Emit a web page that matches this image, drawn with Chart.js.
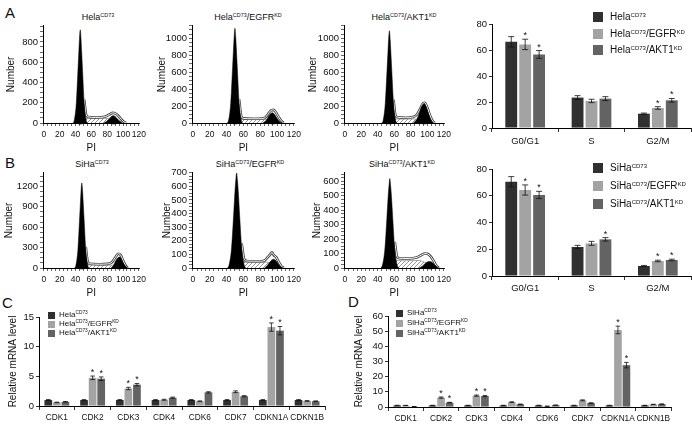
<!DOCTYPE html>
<html>
<head>
<meta charset="utf-8">
<script src="https://cdn.jsdelivr.net/npm/chart.js@4.4.1/dist/chart.umd.min.js"></script>
<style>
  body { margin: 0; background: #fff; }
  #fig { position: relative; width: 692px; height: 427px; overflow: hidden; background: #fff;
         font-family: 'Liberation Sans', Arial, sans-serif; color: #111; }
  #fig canvas { position: absolute; }
  .panel { position: absolute; font-size: 15px; line-height: 15px; }
  .ttl { position: absolute; width: 140px; text-align: center; white-space: nowrap; font-size: 9px; line-height: 10px; color: #111; }
  .ttl sup, .leg sup { font-size: 0.6em; line-height: 0; vertical-align: 0.55em; }
  .leg { position: absolute; white-space: nowrap; color: #111; }
  .leg i { position: absolute; display: block; }
</style>
</head>
<body>
<div id="fig">
  <div class="panel" style="left:5px;top:5px">A</div>
  <div class="panel" style="left:5px;top:155px">B</div>
  <div class="panel" style="left:2px;top:295px">C</div>
  <div class="panel" style="left:348px;top:294px">D</div>

  <div class="ttl" style="left:28px;top:12px">Hela<sup>CD73</sup></div>
  <div class="ttl" style="left:178px;top:12px">Hela<sup>CD73</sup>/EGFR<sup>KD</sup></div>
  <div class="ttl" style="left:334px;top:12px">Hela<sup>CD73</sup>/AKT1<sup>KD</sup></div>
  <div class="ttl" style="left:22px;top:159px">SiHa<sup>CD73</sup></div>
  <div class="ttl" style="left:180px;top:159px">SiHa<sup>CD73</sup>/EGFR<sup>KD</sup></div>
  <div class="ttl" style="left:332px;top:159px">SiHa<sup>CD73</sup>/AKT1<sup>KD</sup></div>

  <canvas id="hA1" width="150" height="136" style="left:0;top:18px"></canvas>
  <canvas id="hA2" width="155" height="136" style="left:150px;top:18px"></canvas>
  <canvas id="hA3" width="150" height="136" style="left:305px;top:18px"></canvas>
  <canvas id="hB1" width="150" height="134" style="left:0;top:165px"></canvas>
  <canvas id="hB2" width="155" height="134" style="left:150px;top:165px"></canvas>
  <canvas id="hB3" width="150" height="134" style="left:305px;top:165px"></canvas>
  <canvas id="barA" width="237" height="147" style="left:455px;top:8px"></canvas>
  <canvas id="barB" width="237" height="147" style="left:455px;top:153px"></canvas>
  <canvas id="barC" width="346" height="129" style="left:0;top:298px"></canvas>
  <canvas id="barD" width="346" height="129" style="left:346px;top:298px"></canvas>
</div>

<script>
// ---- cell cycle histograms: [PI, count] ----
const a1G1 = [[37,0],[38.5,28],[41,193],[43,506],[44.3,718],[45,828],[46,920],[47,828],[47.7,718],[49,506],[51,193],[53.5,28],[55,0]];
const a1G2 = [[76,0],[79,15],[83,45],[86,68],[88,72],[90,65],[93,40],[96,15],[99,0]];
const a1S = [[44,0],[46,45],[51,48],[60,46],[70,44],[80,46],[85,48],[91,40],[96,22],[100,5],[102,0]];
const a1Total = [[51,230],[53.5,80],[56,60],[65,55],[72,56],[78,64],[83,85],[87,100],[90,95],[94,72],[98,35],[101,12],[104,0]];

const a2G1 = [[41,0],[42.5,34],[45,235],[47,616],[48.3,874],[49,1008],[50,1120],[51,1008],[51.7,874],[53,616],[55,235],[57.5,34],[59,0]];
const a2G2 = [[83,0],[87,30],[90,80],[93,115],[95,120],[97,100],[100,55],[103,15],[106,0]];
const a2S = [[47,0],[50,40],[55,45],[65,42],[75,40],[85,42],[90,38],[96,25],[102,8],[106,0]];
const a2Total = [[55,280],[57.5,80],[60,55],[70,50],[78,50],[85,58],[89,100],[93,150],[96,155],[99,120],[102,70],[105,25],[108,0]];

const a3G1 = [[45,0],[46.5,33],[49,229],[51,600],[52.3,850],[53,981],[54,1090],[55,981],[55.7,850],[57,600],[59,229],[61.5,33],[63,0]];
const a3G2 = [[83,0],[87,40],[90,110],[93,195],[96,226],[98,205],[101,120],[104,40],[107,0]];
const a3S = [[51,0],[54,45],[60,48],[70,45],[80,48],[87,45],[93,30],[99,10],[103,0]];
const a3Total = [[59,275],[61.5,85],[64,68],[75,62],[82,70],[87,95],[91,160],[95,235],[97,240],[100,180],[104,70],[107,15],[109,0]];

const b1G1 = [[39,0],[40.5,38],[43,263],[45,688],[46.3,975],[47,1125],[48,1250],[49,1125],[49.7,975],[51,688],[53,263],[55.5,38],[57,0]];
const b1G2 = [[85,0],[88,40],[91,110],[94,155],[96,160],[98,130],[101,60],[104,15],[106,0]];
const b1S = [[45,0],[48,40],[54,45],[64,42],[74,40],[84,42],[90,38],[95,25],[100,8],[103,0]];
const b1Total = [[53,310],[55.5,90],[58,62],[70,56],[80,60],[86,85],[90,150],[94,210],[97,190],[100,110],[103,40],[106,0]];

const b2G1 = [[41,0],[43,21],[46,147],[48.4,385],[50,560],[51,644],[52,700],[53,644],[54,560],[55.6,385],[58,147],[61,21],[63,0]];
const b2G2 = [[85,0],[88,15],[91,40],[94,60],[96,65],[98,58],[101,35],[104,10],[107,0]];
const b2S = [[49,0],[52,40],[58,44],[68,42],[78,40],[88,42],[93,38],[98,25],[103,8],[107,0]];
const b2Total = [[58,180],[61,65],[64,52],[72,50],[80,50],[86,58],[89,80],[92,100],[94,115],[96,95],[99,80],[102,45],[105,15],[108,0]];

const b3G1 = [[43.5,0],[45.5,19],[48.5,130],[50.9,341],[52.5,496],[53.5,570],[54.5,620],[55.5,570],[56.5,496],[58.1,341],[60.5,130],[63.5,19],[65.5,0]];
const b3G2 = [[90,0],[94,12],[97,30],[100,42],[103,45],[106,38],[109,20],[112,5],[114,0]];
const b3S = [[52,0],[55,45],[62,52],[72,50],[82,52],[90,52],[96,42],[102,25],[108,8],[112,0]];
const b3Total = [[60.5,180],[63.5,75],[66,68],[74,66],[82,68],[88,75],[93,90],[97,100],[100,98],[104,80],[108,45],[111,15],[114,0]];

// G1 / G2 mean markers on the PI axis
const a1Marks = [46, 88], a2Marks = [50, 95], a3Marks = [54, 96];
const b1Marks = [48, 95], b2Marks = [52, 96], b3Marks = [54.5, 103];

// ---- cell cycle distribution (%) ----
const phases = ['G0/G1', 'S', 'G2/M'];
const helaCtrl = [66.3, 23.4, 11.0],  helaCtrlErr = [4.0, 1.5, 0.5];
const helaEgfr = [64.3, 20.8, 15.4],  helaEgfrErr = [4.0, 1.3, 1.0],  helaEgfrSig = [1, 0, 1];
const helaAkt1 = [56.6, 22.6, 21.3],  helaAkt1Err = [3.0, 1.5, 1.4],  helaAkt1Sig = [1, 0, 1];
const sihaCtrl = [70.5, 21.7, 7.5],   sihaCtrlErr = [3.8, 1.2, 0.4];
const sihaEgfr = [64.3, 24.4, 11.2],  sihaEgfrErr = [3.8, 1.5, 0.6],  sihaEgfrSig = [1, 0, 1];
const sihaAkt1 = [60.6, 27.4, 12.0],  sihaAkt1Err = [2.7, 1.3, 0.6],  sihaAkt1Sig = [1, 1, 1];

// ---- relative mRNA level ----
const genes = ['CDK1', 'CDK2', 'CDK3', 'CDK4', 'CDK6', 'CDK7', 'CDKN1A', 'CDKN1B'];
const helaMrna     = [1, 1, 1, 1, 1, 1, 1, 1];
const helaMrnaErr  = [0.08, 0.08, 0.08, 0.08, 0.08, 0.08, 0.08, 0.08];
const helaEgfrMrna = [0.6, 4.75, 2.95, 1.05, 0.8, 2.4, 13.3, 0.85];
const helaEgfrErrM = [0.05, 0.3, 0.2, 0.08, 0.06, 0.15, 0.7, 0.06];
const helaEgfrSigM = [0, 1, 1, 0, 0, 0, 1, 0];
const helaAkt1Mrna = [0.7, 4.6, 3.6, 1.4, 2.3, 1.65, 12.7, 0.8];
const helaAkt1ErrM = [0.06, 0.3, 0.2, 0.1, 0.1, 0.1, 0.7, 0.06];
const helaAkt1SigM = [0, 1, 1, 0, 0, 0, 1, 0];

const sihaMrna     = [1, 1, 1, 1, 1, 1, 1, 1];
const sihaMrnaErr  = [0.15, 0.15, 0.15, 0.15, 0.15, 0.15, 0.15, 0.15];
const sihaEgfrMrna = [1.0, 6.2, 7.5, 3.2, 0.5, 4.4, 50.8, 1.7];
const sihaEgfrErrM = [0.1, 0.4, 0.4, 0.2, 0.05, 0.3, 2.5, 0.1];
const sihaEgfrSigM = [0, 1, 1, 0, 0, 0, 1, 0];
const sihaAkt1Mrna = [0.3, 2.9, 7.2, 1.8, 1.2, 2.6, 27.6, 1.9];
const sihaAkt1ErrM = [0.05, 0.2, 0.4, 0.15, 0.1, 0.2, 1.8, 0.1];
const sihaAkt1SigM = [0, 1, 1, 0, 0, 0, 1, 0];

const colors = ['#303030', '#a3a3a3', '#636363'];

Chart.defaults.font.family = "'Liberation Sans', Arial, sans-serif";
Chart.defaults.color = '#111';
Chart.defaults.animation = false;

function pts(arr) { return arr.map(([x, y]) => ({ x, y })); }

function hatch() {
  const c = document.createElement('canvas');
  c.width = 4; c.height = 4;
  const g = c.getContext('2d');
  g.strokeStyle = '#666';
  g.lineWidth = 0.7;
  g.beginPath();
  g.moveTo(0, 4); g.lineTo(4, 0);
  g.moveTo(-1, 1); g.lineTo(1, -1);
  g.moveTo(3, 5); g.lineTo(5, 3);
  g.stroke();
  return g.createPattern(c, 'repeat');
}

function makeHist(id, c) {
  const line = { pointRadius: 0, cubicInterpolationMode: 'monotone' };
  new Chart(document.getElementById(id), {
    type: 'line',
    data: {
      datasets: [
        { ...line, data: pts(c.s), fill: 'origin', backgroundColor: hatch(), borderColor: '#777', borderWidth: 0.6, order: 5 },
        { ...line, data: pts(c.total), fill: false, borderColor: '#444', borderWidth: 2.6, order: 4 },
        { ...line, data: pts(c.total), fill: false, borderColor: '#fff', borderWidth: 1, order: 3 },
        { ...line, data: pts(c.g1), fill: 'origin', backgroundColor: '#000', borderColor: '#000', borderWidth: 0.5, order: 2 },
        { ...line, data: pts(c.g2), fill: 'origin', backgroundColor: '#000', borderColor: '#000', borderWidth: 0.5, order: 1 },
        { type: 'scatter', data: c.marks.map(x => ({ x, y: 0 })), pointStyle: 'triangle', pointRadius: 2.4,
          backgroundColor: '#000', borderWidth: 0, clip: false, order: 0 }
      ]
    },
    options: {
      responsive: false,
      layout: { padding: { top: c.padT, right: c.padR, bottom: 0, left: 0 } },
      plugins: { legend: { display: false }, tooltip: { enabled: false } },
      scales: {
        x: {
          type: 'linear', min: -1, max: 121,
          afterFit: s => { s.height = c.xH; },
          border: { color: '#000', width: 1 },
          grid: { drawOnChartArea: false, tickLength: 3, color: '#000', lineWidth: 0.6 },
          ticks: { stepSize: 5, includeBounds: false, autoSkip: false, maxRotation: 0, padding: 4,
                   font: { size: 8.5 }, callback: v => (v % 20 === 0 ? v : '') },
          title: { display: true, text: 'PI', padding: 0, font: { size: 10 } }
        },
        y: {
          min: 0, max: c.yMax,
          afterFit: s => { s.width = c.yW; },
          border: { color: '#000', width: 1 },
          grid: { drawOnChartArea: false, tickLength: 3, color: '#000', lineWidth: 0.6 },
          ticks: { stepSize: c.yStep / 4, includeBounds: false, autoSkip: false, padding: 2,
                   font: { size: 9.5 }, callback: v => (v % c.yStep === 0 ? v : '') },
          title: { display: true, text: 'Number', padding: { top: c.tPad, bottom: 0 }, font: { size: 10 } }
        }
      }
    }
  });
}

makeHist('hA1', { g1: a1G1, g2: a1G2, s: a1S, total: a1Total, marks: a1Marks, yMax: 960, yStep: 200, yW: 43, padT: 5, padR: 5, xH: 31, tPad: 5 });
makeHist('hA2', { g1: a2G1, g2: a2G2, s: a2S, total: a2Total, marks: a2Marks, yMax: 1150, yStep: 200, yW: 42, padT: 5, padR: 5, xH: 31, tPad: 6 });
makeHist('hA3', { g1: a3G1, g2: a3G2, s: a3S, total: a3Total, marks: a3Marks, yMax: 1150, yStep: 200, yW: 39, padT: 5, padR: 6, xH: 31, tPad: 2 });
makeHist('hB1', { g1: b1G1, g2: b1G2, s: b1S, total: b1Total, marks: b1Marks, yMax: 1400, yStep: 300, yW: 43, padT: 5, padR: 5, xH: 31, tPad: 3 });
makeHist('hB2', { g1: b2G1, g2: b2G2, s: b2S, total: b2Total, marks: b2Marks, yMax: 700, yStep: 100, yW: 42, padT: 5, padR: 5, xH: 31, tPad: 11 });
makeHist('hB3', { g1: b3G1, g2: b3G2, s: b3S, total: b3Total, marks: b3Marks, yMax: 660, yStep: 100, yW: 39, padT: 5, padR: 6, xH: 31, tPad: 6 });

// error bars + significance stars
const errorBars = {
  id: 'errorBars',
  afterDatasetsDraw(chart) {
    const ctx = chart.ctx, y = chart.scales.y;
    ctx.save();
    ctx.strokeStyle = '#111';
    ctx.fillStyle = '#111';
    ctx.lineWidth = 0.8;
    ctx.font = "9px 'Liberation Sans', Arial, sans-serif";
    ctx.textAlign = 'center';
    chart.data.datasets.forEach((ds, i) => {
      chart.getDatasetMeta(i).data.forEach((bar, j) => {
        const top = y.getPixelForValue(ds.data[j] + ds.errors[j]);
        const bot = y.getPixelForValue(ds.data[j] - ds.errors[j]);
        const cap = Math.min(bar.width * 0.3, 3);
        ctx.beginPath();
        ctx.moveTo(bar.x, top); ctx.lineTo(bar.x, bot);
        ctx.moveTo(bar.x - cap, top); ctx.lineTo(bar.x + cap, top);
        ctx.moveTo(bar.x - cap, bot); ctx.lineTo(bar.x + cap, bot);
        ctx.stroke();
        if (ds.stars && ds.stars[j]) ctx.fillText('*', bar.x, top - 1);
      });
    });
    ctx.restore();
  }
};

function makeBars(id, c) {
  new Chart(document.getElementById(id), {
    type: 'bar',
    data: {
      labels: c.labels,
      datasets: c.series.map((s, i) => ({
        label: s.name, data: s.values, errors: s.errors, stars: s.stars,
        backgroundColor: colors[i], borderWidth: 0,
        categoryPercentage: c.catPct, barPercentage: c.barPct
      }))
    },
    options: {
      responsive: false,
      layout: { padding: { top: c.padT, right: c.padR, bottom: 0, left: 0 } },
      plugins: { legend: { display: false }, tooltip: { enabled: false } },
      scales: {
        x: {
          afterFit: s => { s.height = c.xH; },
          border: { color: '#000', width: 1 },
          grid: { drawOnChartArea: false, offset: true, tickLength: 4, color: '#000', lineWidth: 0.8 },
          ticks: { padding: c.xPad, autoSkip: false, maxRotation: 0, font: { size: c.xFont } }
        },
        y: {
          min: 0, max: c.yMax,
          afterFit: s => { s.width = c.yW; },
          border: { color: '#000', width: 1 },
          grid: { drawOnChartArea: false, tickLength: 3, color: '#000', lineWidth: 0.8 },
          ticks: { stepSize: c.yStep, padding: 2, font: { size: 9.5 } },
          title: c.yTitle
            ? { display: true, text: c.yTitle, padding: { top: c.tPad, bottom: 0 }, font: { size: 10 } }
            : { display: false }
        }
      }
    },
    plugins: [errorBars]
  });

  // legend (HTML so the superscripts stay real text)
  const fig = document.getElementById('fig');
  c.series.forEach((s, i) => {
    const yc = c.leg.y[i];
    const sq = document.createElement('i');
    sq.style.cssText = `left:${c.leg.x}px;top:${yc - c.leg.sq / 2}px;width:${c.leg.sq}px;height:${c.leg.sq}px;background:${colors[i]}`;
    const tx = document.createElement('div');
    tx.className = 'leg';
    tx.style.cssText = `left:${c.leg.tx}px;top:${yc - c.leg.font / 2 - 1}px;font-size:${c.leg.font}px;line-height:${c.leg.font + 2}px`;
    tx.innerHTML = s.html;
    const wrap = document.createElement('div');
    wrap.className = 'leg';
    wrap.style.cssText = 'left:0;top:0';
    wrap.appendChild(sq);
    fig.appendChild(wrap);
    fig.appendChild(tx);
  });
}

makeBars('barA', {
  labels: phases, yMax: 80, yStep: 10, yW: 37, padT: 16, padR: 1, xH: 27, xPad: 4, xFont: 9.5,
  catPct: 0.63, barPct: 0.85,
  series: [
    { name: 'HelaCD73', html: 'Hela<sup>CD73</sup>', values: helaCtrl, errors: helaCtrlErr },
    { name: 'HelaCD73/EGFRKD', html: 'Hela<sup>CD73</sup>/EGFR<sup>KD</sup>', values: helaEgfr, errors: helaEgfrErr, stars: helaEgfrSig },
    { name: 'HelaCD73/AKT1KD', html: 'Hela<sup>CD73</sup>/AKT1<sup>KD</sup>', values: helaAkt1, errors: helaAkt1Err, stars: helaAkt1Sig }
  ],
  leg: { x: 593, tx: 610, sq: 10, font: 10, y: [16.5, 33.5, 49.5] }
});

makeBars('barB', {
  labels: phases, yMax: 80, yStep: 10, yW: 37, padT: 16, padR: 1, xH: 24, xPad: 3, xFont: 9.5,
  catPct: 0.63, barPct: 0.85,
  series: [
    { name: 'SiHaCD73', html: 'SiHa<sup>CD73</sup>', values: sihaCtrl, errors: sihaCtrlErr },
    { name: 'SiHaCD73/EGFRKD', html: 'SiHa<sup>CD73</sup>/EGFR<sup>KD</sup>', values: sihaEgfr, errors: sihaEgfrErr, stars: sihaEgfrSig },
    { name: 'SiHaCD73/AKT1KD', html: 'SiHa<sup>CD73</sup>/AKT1<sup>KD</sup>', values: sihaAkt1, errors: sihaAkt1Err, stars: sihaAkt1Sig }
  ],
  leg: { x: 593, tx: 610, sq: 10, font: 10, y: [167.5, 186, 204] }
});

makeBars('barC', {
  labels: genes, yMax: 15, yStep: 5, yW: 39, padT: 19, padR: 21, xH: 21, xPad: 3, xFont: 8.3,
  catPct: 0.72, barPct: 0.9, yTitle: 'Relative mRNA level', tPad: 7,
  series: [
    { name: 'HelaCD73', html: 'Hela<sup>CD73</sup>', values: helaMrna, errors: helaMrnaErr },
    { name: 'HelaCD73/EGFRKD', html: 'Hela<sup>CD73</sup>/EGFR<sup>KD</sup>', values: helaEgfrMrna, errors: helaEgfrErrM, stars: helaEgfrSigM },
    { name: 'HelaCD73/AKT1KD', html: 'Hela<sup>CD73</sup>/AKT1<sup>KD</sup>', values: helaAkt1Mrna, errors: helaAkt1ErrM, stars: helaAkt1SigM }
  ],
  leg: { x: 48, tx: 59, sq: 7, font: 8, y: [315, 324, 333] }
});

makeBars('barD', {
  labels: genes, yMax: 60, yStep: 10, yW: 42, padT: 18, padR: 21, xH: 20, xPad: 3, xFont: 8.3,
  catPct: 0.72, barPct: 0.9, yTitle: 'Relative mRNA level', tPad: 7,
  series: [
    { name: 'SiHaCD73', html: 'SiHa<sup>CD73</sup>', values: sihaMrna, errors: sihaMrnaErr },
    { name: 'SiHaCD73/EGFRKD', html: 'SiHa<sup>CD73</sup>/EGFR<sup>KD</sup>', values: sihaEgfrMrna, errors: sihaEgfrErrM, stars: sihaEgfrSigM },
    { name: 'SiHaCD73/AKT1KD', html: 'SiHa<sup>CD73</sup>/AKT1<sup>KD</sup>', values: sihaAkt1Mrna, errors: sihaAkt1ErrM, stars: sihaAkt1SigM }
  ],
  leg: { x: 396, tx: 407, sq: 7, font: 8, y: [313, 323, 333] }
});
</script>
</body>
</html>
